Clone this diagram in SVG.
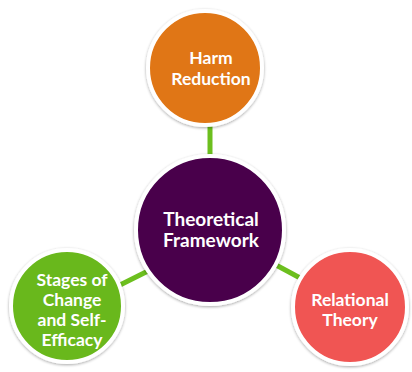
<svg xmlns="http://www.w3.org/2000/svg" width="412" height="372" viewBox="0 0 412 372">
  <defs>
    <filter id="soft" x="-20%" y="-20%" width="140%" height="140%">
      <feGaussianBlur in="SourceAlpha" stdDeviation="1.5"/>
      <feOffset dx="0" dy="0.5"/>
      <feComponentTransfer><feFuncA type="linear" slope="0.35"/></feComponentTransfer>
      <feMerge><feMergeNode/><feMergeNode in="SourceGraphic"/></feMerge>
    </filter>
  </defs>
  <style>
    .ring { stroke: #ffffff; stroke-width: 4; filter: url(#soft); }
    .lbl { font-family: Lato, "Open Sans", "Liberation Sans", sans-serif; font-weight: bold; fill: #ffffff; text-anchor: middle; font-size: 17.5px; }
    .big { font-size: 19px; }
    .link { stroke: #6cbf1e; stroke-width: 5; fill: none; }
  </style>
  <rect width="412" height="372" fill="#ffffff"/>

  <g id="connectors">
    <line class="link" x1="210" y1="124" x2="210" y2="158"/>
    <line class="link" x1="120" y1="285" x2="150" y2="270"/>
    <line class="link" x1="276" y1="265" x2="302" y2="279"/>
  </g>

  <g id="harm-reduction">
    <circle class="ring" cx="205" cy="68" r="57" fill="#e07614"/>
    <text class="lbl" x="211" y="64">Harm</text>
    <text class="lbl" x="211" y="85">Reduction</text>
  </g>

  <g id="theoretical-framework">
    <circle class="ring" cx="210" cy="230" r="74" fill="#48004c"/>
    <text class="lbl big" x="211" y="226">Theoretical</text>
    <text class="lbl big" x="211" y="247">Framework</text>
  </g>

  <g id="stages-of-change">
    <circle class="ring" cx="67" cy="306" r="56" fill="#69b81b"/>
    <text class="lbl" x="72" y="286">Stages of</text>
    <text class="lbl" x="72" y="306">Change</text>
    <text class="lbl" x="72" y="326">and Self-</text>
    <text class="lbl" x="72" y="346">Efficacy</text>
  </g>

  <g id="relational-theory">
    <circle class="ring" cx="350" cy="307" r="57" fill="#f05552"/>
    <text class="lbl" x="350" y="306">Relational</text>
    <text class="lbl" x="350" y="326">Theory</text>
  </g>
</svg>
